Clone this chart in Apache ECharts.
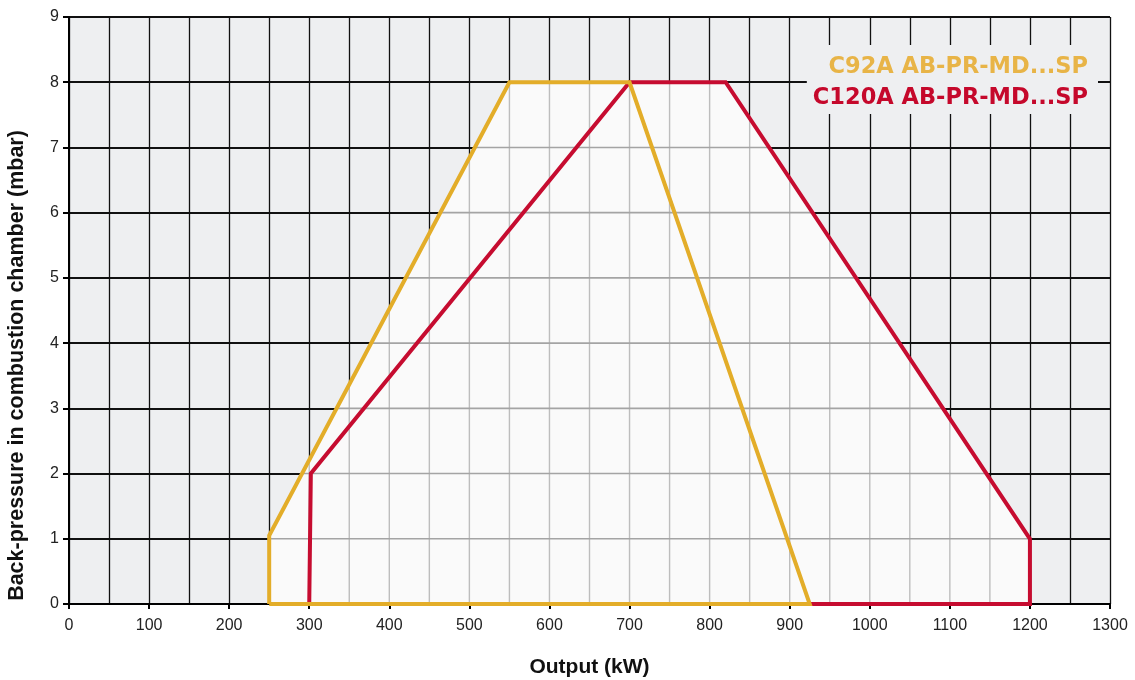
<!DOCTYPE html>
<html>
<head>
<meta charset="utf-8">
<title>Back-pressure vs Output</title>
<script src="https://cdn.jsdelivr.net/npm/echarts@6/dist/echarts.min.js"></script>
<style>
  html, body { margin: 0; padding: 0; background: #ffffff; }
  #chart { width: 1135px; height: 680px; }
</style>
</head>
<body>
<div id="chart"></div>
<script>
// Working field outlines: output (kW) against back-pressure (mbar)
const seriesNames = ['C92A AB-PR-MD...SP', 'C120A AB-PR-MD...SP'];
const c92Output   = [250, 250, 550, 700, 925, 250];
const c92Pressure = [0, 1.05, 8, 8, 0, 0];
const c120Output   = [300, 302, 700, 820, 1200, 1200, 300];
const c120Pressure = [0, 2, 8, 8, 1, 0, 0];

// Axis ticks
const xTickLabels = [0, 100, 200, 300, 400, 500, 600, 700, 800, 900, 1000, 1100, 1200, 1300];
const yTickLabels = [0, 1, 2, 3, 4, 5, 6, 7, 8, 9];
const xGridStep = 50;

const FONT = '"Liberation Sans", Arial, Helvetica, sans-serif';
const LEGEND_FONT = '"DejaVu Sans", "Liberation Sans", sans-serif';
const outlines = [
  c92Output.map((x, i) => [x, c92Pressure[i]]),
  c120Output.map((x, i) => [x, c120Pressure[i]])
];

// Interval where the line (x = v or y = v) crosses a convex polygon
function crossing(poly, vertical, v) {
  const hits = [];
  for (let i = 0; i < poly.length - 1; i++) {
    const a = poly[i], b = poly[i + 1];
    const pa = vertical ? a[0] : a[1], pb = vertical ? b[0] : b[1];
    const qa = vertical ? a[1] : a[0], qb = vertical ? b[1] : b[0];
    if (pa === pb) {
      if (pa === v) { hits.push(qa, qb); }
      continue;
    }
    if ((pa - v) * (pb - v) <= 0) {
      hits.push(qa + (qb - qa) * (v - pa) / (pb - pa));
    }
  }
  if (!hits.length) return null;
  return [Math.min.apply(null, hits), Math.max.apply(null, hits)];
}
function unionCrossing(vertical, v) {
  const iv = outlines.map(p => crossing(p, vertical, v)).filter(Boolean)
    .sort((a, b) => a[0] - b[0]);
  const out = [];
  iv.forEach(r => {
    if (out.length && r[0] <= out[out.length - 1][1]) {
      out[out.length - 1][1] = Math.max(out[out.length - 1][1], r[1]);
    } else out.push(r.slice());
  });
  return out;
}

const xMin = xTickLabels[0], xMax = xTickLabels[xTickLabels.length - 1];
const yMin = yTickLabels[0], yMax = yTickLabels[yTickLabels.length - 1];

// Light field inside the outlines, with its own softer grid
function renderField(params, api) {
  const children = [];
  outlines.forEach(poly => {
    children.push({
      type: 'polygon',
      shape: { points: poly.map(p => api.coord(p)) },
      style: { fill: '#fafafa' }
    });
  });
  for (let x = xMin + xGridStep; x < xMax; x += xGridStep) {
    unionCrossing(true, x).forEach(r => {
      const p1 = api.coord([x, r[0]]), p2 = api.coord([x, r[1]]);
      children.push({
        type: 'line',
        shape: { x1: p1[0], y1: p1[1], x2: p2[0], y2: p2[1] },
        style: { stroke: '#bdbdbd', lineWidth: 1.4 }
      });
    });
  }
  for (let y = yMin + 1; y < yMax; y += 1) {
    unionCrossing(false, y).forEach(r => {
      const p1 = api.coord([r[0], y]), p2 = api.coord([r[1], y]);
      children.push({
        type: 'line',
        shape: { x1: p1[0], y1: p1[1], x2: p2[0], y2: p2[1] },
        style: { stroke: '#a4a4a4', lineWidth: 1.6 }
      });
    });
  }
  return { type: 'group', children: children };
}

const chart = echarts.init(document.getElementById('chart'), null, { renderer: 'canvas' });
chart.setOption({
  animation: false,
  backgroundColor: '#ffffff',
  textStyle: { fontFamily: FONT },
  grid: {
    left: 69, right: 25, top: 17, bottom: 76,
    outerBoundsMode: 'none',
    containLabel: false,
    show: true, backgroundColor: '#eeeff1', borderWidth: 0
  },
  legend: {
    orient: 'vertical',
    align: 'right',
    right: 37,
    top: 45,
    icon: 'none',
    itemWidth: 0,
    itemHeight: 22,
    itemGap: 8,
    padding: [11, 5, 4, 6],
    backgroundColor: '#eeeff1',
    selectedMode: false,
    textStyle: { fontFamily: LEGEND_FONT, fontSize: 22.5, fontWeight: 'bold' },
    data: [
      { name: seriesNames[0], textStyle: { color: '#e8b447' } },
      { name: seriesNames[1], textStyle: { color: '#c5082b' } }
    ]
  },
  xAxis: {
    type: 'value',
    min: xMin, max: xMax, interval: 100,
    name: 'Output (kW)',
    nameLocation: 'middle',
    nameGap: 53,
    nameTextStyle: { fontFamily: FONT, fontSize: 21, fontWeight: 'bold', color: '#111' },
    axisLine: { show: true, onZero: false, lineStyle: { color: '#000', width: 2 } },
    axisTick: { show: true, length: 5, lineStyle: { color: '#000', width: 2 } },
    minorTick: { show: false, splitNumber: 2 },
    axisLabel: {
      margin: 14, fontSize: 16, color: '#222', fontFamily: FONT,
      formatter: v => String(v)
    },
    splitLine: { show: true, lineStyle: { color: '#111', width: 1.3 } },
    minorSplitLine: { show: true, lineStyle: { color: '#111', width: 1.3 } }
  },
  yAxis: {
    type: 'value',
    min: yMin, max: yMax, interval: 1,
    name: 'Back-pressure in combustion chamber (mbar)',
    nameLocation: 'middle',
    nameGap: 41,
    nameTextStyle: {
      fontFamily: FONT, fontSize: 21.5, fontWeight: 'bold', color: '#111',
      padding: [0, 110, 0, 0]
    },
    axisLine: { show: true, lineStyle: { color: '#000', width: 2 } },
    axisTick: { show: true, length: 6, lineStyle: { color: '#000', width: 2 } },
    axisLabel: { margin: 10, fontSize: 16, color: '#222', fontFamily: FONT, formatter: v => String(v) },
    splitLine: { show: true, lineStyle: { color: '#111', width: 1.8 } }
  },
  series: [
    {
      type: 'custom',
      name: 'field',
      z: 1,
      silent: true,
      renderItem: renderField,
      data: [[0, 0]],
      clip: true
    },
    {
      type: 'line',
      name: seriesNames[1],
      data: outlines[1],
      showSymbol: false,
      z: 3,
      lineStyle: { color: '#c60c30', width: 4, join: 'miter' },
      itemStyle: { color: '#c60c30' }
    },
    {
      type: 'line',
      name: seriesNames[0],
      data: outlines[0],
      showSymbol: false,
      z: 4,
      lineStyle: { color: '#e3ad29', width: 4, join: 'miter' },
      itemStyle: { color: '#e3ad29' }
    }
  ]
});
</script>
</body>
</html>
